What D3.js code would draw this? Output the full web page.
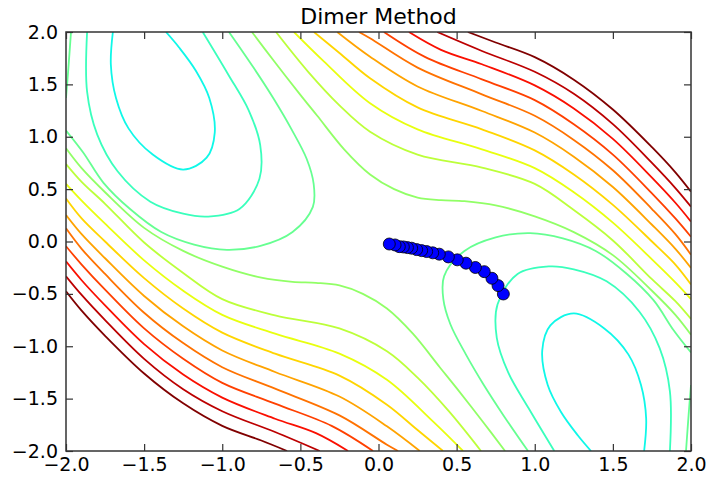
<!DOCTYPE html>
<html>
<head>
<meta charset="utf-8">
<script src="https://cdn.jsdelivr.net/npm/d3@7"></script>
<style>
  body { margin: 0; background: #fff; }
  text { font-family: "DejaVu Sans", sans-serif; }
</style>
</head>
<body>
<div id="chart"></div>
<script>
const margins = { top: 32, right: 31, bottom: 28, left: 66 };
const width = 722 - margins.left - margins.right;
const height = 479 - margins.top - margins.bottom;

const title = "Dimer Method";
const xTicks = [-2, -1.5, -1, -0.5, 0, 0.5, 1, 1.5, 2];
const yTicks = [-2, -1.5, -1, -0.5, 0, 0.5, 1, 1.5, 2];

// jet colours of the contour levels, lowest first
const levelColors = [
    "rgb(15,248,232)", "rgb(58,255,188)", "rgb(102,255,145)", "rgb(145,255,102)",
    "rgb(188,255,58)", "rgb(232,255,15)", "rgb(255,213,0)", "rgb(255,163,0)",
    "rgb(255,114,0)", "rgb(255,64,0)", "rgb(250,15,0)", "rgb(188,0,0)", "rgb(128,0,0)"
];

// contour lines: [level index, points]
const loopsTopLeft = [
    [0, [[-1.70, 2.0], [-1.713, 1.69], [-1.68, 1.37], [-1.60, 1.08], [-1.445, 0.83], [-1.25, 0.687], [-1.10, 0.80], [-1.048, 1.04], [-1.083, 1.37], [-1.168, 1.628], [-1.275, 1.85], [-1.36, 2.0]]],
    [1, [[-1.865, 2.0], [-1.865, 1.43], [-1.80, 1.02], [-1.67, 0.67], [-1.46, 0.38], [-1.25, 0.265], [-1.09, 0.238], [-0.89, 0.31], [-0.762, 0.60], [-0.757, 0.92], [-0.83, 1.25], [-0.96, 1.59], [-1.125, 2.0]]],
    [2, [[-1.968, 2.0], [-1.985, 1.65], [-2.0, 1.37]]],
    [2, [[-2.0, 1.06], [-1.89, 0.85], [-1.76, 0.56], [-1.59, 0.31], [-1.39, 0.09], [-1.18, -0.03], [-0.97, -0.08], [-0.75, -0.04], [-0.55, 0.09], [-0.42, 0.33], [-0.415, 0.55], [-0.46, 0.79], [-0.56, 1.08], [-0.67, 1.36], [-0.80, 1.66], [-0.957, 2.0]]]
];

const loopsBottomRight = [
    [0, [[1.70, -2.0], [1.713, -1.69], [1.68, -1.37], [1.60, -1.08], [1.445, -0.83], [1.25, -0.687], [1.10, -0.80], [1.048, -1.04], [1.083, -1.37], [1.168, -1.628], [1.275, -1.85], [1.36, -2.0]]],
    [1, [[1.865, -2.0], [1.865, -1.43], [1.80, -1.02], [1.67, -0.67], [1.46, -0.38], [1.25, -0.265], [1.09, -0.238], [0.89, -0.31], [0.762, -0.60], [0.757, -0.92], [0.83, -1.25], [0.96, -1.59], [1.125, -2.0]]],
    [2, [[1.968, -2.0], [1.985, -1.65], [2.0, -1.37]]],
    [2, [[2.0, -1.06], [1.89, -0.85], [1.76, -0.56], [1.59, -0.31], [1.39, -0.09], [1.18, 0.03], [0.97, 0.08], [0.75, 0.04], [0.55, -0.09], [0.42, -0.33], [0.415, -0.55], [0.46, -0.79], [0.56, -1.08], [0.67, -1.36], [0.80, -1.66], [0.957, -2.0]]]
];

const ridgesTopRight = [
    [3, [[-0.81, 2.0], [-0.669, 1.723], [-0.50, 1.40], [-0.392, 1.20], [-0.22, 0.88], [-0.054, 0.64], [0.10, 0.50], [0.25, 0.42], [0.40, 0.395], [0.55, 0.385], [0.75, 0.345], [1.0, 0.24], [1.25, 0.09], [1.5, -0.13], [1.75, -0.47], [1.9, -0.70], [2.0, -0.89]]],
    [4, [[-0.656, 2.0], [-0.45, 1.62], [-0.25, 1.30], [-0.054, 1.048], [0.25, 0.83], [0.662, 0.705], [1.0, 0.55], [1.25, 0.30], [1.5, 0.01], [1.75, -0.36], [1.9, -0.57], [2.0, -0.74]]],
    [5, [[-0.541, 2.0], [-0.35, 1.72], [-0.054, 1.32], [0.25, 1.07], [0.662, 0.88], [1.0, 0.70], [1.25, 0.47], [1.5, 0.18], [1.75, -0.17], [1.9, -0.39], [2.0, -0.55]]],
    [6, [[-0.413, 2.0], [-0.25, 1.80], [-0.054, 1.558], [0.25, 1.28], [0.662, 1.071], [1.0, 0.87], [1.25, 0.64], [1.5, 0.35], [1.75, 0.0], [1.9, -0.22], [2.0, -0.41]]],
    [7, [[-0.264, 2.0], [-0.054, 1.764], [0.25, 1.48], [0.662, 1.246], [1.0, 1.04], [1.25, 0.81], [1.5, 0.52], [1.75, 0.16], [1.9, -0.07], [2.0, -0.253]]],
    [8, [[-0.125, 2.0], [-0.054, 1.94], [0.25, 1.66], [0.662, 1.405], [1.0, 1.20], [1.25, 0.97], [1.5, 0.68], [1.75, 0.31], [1.9, 0.07], [2.0, -0.126]]],
    [9, [[0.035, 2.0], [0.30, 1.76], [0.662, 1.548], [1.0, 1.35], [1.25, 1.12], [1.5, 0.83], [1.75, 0.46], [1.9, 0.22], [2.0, 0.045]]],
    [10, [[0.195, 2.0], [0.40, 1.83], [0.662, 1.692], [1.0, 1.49], [1.25, 1.27], [1.5, 0.98], [1.75, 0.61], [1.9, 0.37], [2.0, 0.19]]],
    [11, [[0.376, 2.0], [0.662, 1.819], [1.0, 1.62], [1.25, 1.41], [1.5, 1.12], [1.75, 0.75], [1.9, 0.51], [2.0, 0.332]]],
    [12, [[0.572, 2.0], [0.75, 1.90], [1.0, 1.76], [1.25, 1.545], [1.5, 1.26], [1.75, 0.90], [1.9, 0.66], [2.0, 0.475]]]
];

const ridgesBottomLeft = [
    [3, [[0.81, -2.0], [0.669, -1.723], [0.50, -1.40], [0.392, -1.20], [0.22, -0.88], [0.054, -0.64], [-0.10, -0.50], [-0.25, -0.42], [-0.40, -0.395], [-0.55, -0.385], [-0.75, -0.345], [-1.0, -0.24], [-1.25, -0.09], [-1.5, 0.13], [-1.75, 0.47], [-1.9, 0.70], [-2.0, 0.89]]],
    [4, [[0.656, -2.0], [0.45, -1.62], [0.25, -1.30], [0.054, -1.048], [-0.25, -0.83], [-0.662, -0.705], [-1.0, -0.55], [-1.25, -0.30], [-1.5, -0.01], [-1.75, 0.36], [-1.9, 0.57], [-2.0, 0.74]]],
    [5, [[0.541, -2.0], [0.35, -1.72], [0.054, -1.32], [-0.25, -1.07], [-0.662, -0.88], [-1.0, -0.70], [-1.25, -0.47], [-1.5, -0.18], [-1.75, 0.17], [-1.9, 0.39], [-2.0, 0.55]]],
    [6, [[0.413, -2.0], [0.25, -1.80], [0.054, -1.558], [-0.25, -1.28], [-0.662, -1.071], [-1.0, -0.87], [-1.25, -0.64], [-1.5, -0.35], [-1.75, 0.0], [-1.9, 0.22], [-2.0, 0.41]]],
    [7, [[0.264, -2.0], [0.054, -1.764], [-0.25, -1.48], [-0.662, -1.246], [-1.0, -1.04], [-1.25, -0.81], [-1.5, -0.52], [-1.75, -0.16], [-1.9, 0.07], [-2.0, 0.253]]],
    [8, [[0.125, -2.0], [0.054, -1.94], [-0.25, -1.66], [-0.662, -1.405], [-1.0, -1.20], [-1.25, -0.97], [-1.5, -0.68], [-1.75, -0.31], [-1.9, -0.07], [-2.0, 0.126]]],
    [9, [[-0.035, -2.0], [-0.30, -1.76], [-0.662, -1.548], [-1.0, -1.35], [-1.25, -1.12], [-1.5, -0.83], [-1.75, -0.46], [-1.9, -0.22], [-2.0, -0.045]]],
    [10, [[-0.195, -2.0], [-0.40, -1.83], [-0.662, -1.692], [-1.0, -1.49], [-1.25, -1.27], [-1.5, -0.98], [-1.75, -0.61], [-1.9, -0.37], [-2.0, -0.19]]],
    [11, [[-0.376, -2.0], [-0.662, -1.819], [-1.0, -1.62], [-1.25, -1.41], [-1.5, -1.12], [-1.75, -0.75], [-1.9, -0.51], [-2.0, -0.332]]],
    [12, [[-0.585, -2.0], [-0.75, -1.90], [-1.0, -1.76], [-1.25, -1.545], [-1.5, -1.26], [-1.75, -0.90], [-1.9, -0.66], [-2.0, -0.475]]]
];

// dimer path, from the start point to the saddle
const pathX = [0.799, 0.765, 0.726, 0.677, 0.62, 0.56, 0.504, 0.447, 0.389, 0.347, 0.308, 0.276, 0.244, 0.212, 0.185, 0.159, 0.133, 0.106, 0.069];
const pathY = [-0.501, -0.421, -0.351, -0.288, -0.248, -0.207, -0.175, -0.147, -0.121, -0.108, -0.096, -0.087, -0.077, -0.064, -0.058, -0.052, -0.049, -0.033, -0.024];

const svg = d3.select("#chart").append("svg")
    .attr("width", width + margins.left + margins.right)
    .attr("height", height + margins.top + margins.bottom);

const g = svg.append("g")
    .attr("transform", `translate(${margins.left}, ${margins.top})`);

const xScale = d3.scaleLinear().domain([-2, 2]).range([0, width]);
const yScale = d3.scaleLinear().domain([-2, 2]).range([height, 0]);

g.append("clipPath")
    .attr("id", "plotClip")
    .append("rect")
    .attr("width", width)
    .attr("height", height);

const line = d3.line()
    .x(d => xScale(d[0]))
    .y(d => yScale(d[1]))
    .curve(d3.curveCatmullRom.alpha(0.5));

const contours = loopsTopLeft.concat(loopsBottomRight, ridgesTopRight, ridgesBottomLeft);

g.append("g")
    .attr("clip-path", "url(#plotClip)")
    .selectAll("path")
    .data(contours)
    .join("path")
    .attr("d", d => line(d[1]))
    .attr("fill", "none")
    .attr("stroke", d => levelColors[d[0]])
    .attr("stroke-width", 1.8);

g.append("g")
    .selectAll("circle")
    .data(pathX.map((x, i) => [x, pathY[i]]))
    .join("circle")
    .attr("cx", d => xScale(d[0]))
    .attr("cy", d => yScale(d[1]))
    .attr("r", 6)
    .attr("fill", "#0000ff")
    .attr("stroke", "#000")
    .attr("stroke-width", 0.8);

// frame and inward ticks on all four sides
const fmt = d3.format(".1f");
const tickLen = 7;

const xAxisB = g.append("g")
    .attr("transform", `translate(0, ${height})`)
    .call(d3.axisBottom(xScale).tickValues(xTicks).tickFormat(fmt).tickSizeInner(-tickLen).tickSizeOuter(0).tickPadding(7));
const xAxisT = g.append("g")
    .call(d3.axisTop(xScale).tickValues(xTicks).tickFormat("").tickSizeInner(-tickLen).tickSizeOuter(0));
const yAxisL = g.append("g")
    .call(d3.axisLeft(yScale).tickValues(yTicks).tickFormat(fmt).tickSizeInner(-tickLen).tickSizeOuter(0).tickPadding(8));
const yAxisR = g.append("g")
    .attr("transform", `translate(${width}, 0)`)
    .call(d3.axisRight(yScale).tickValues(yTicks).tickFormat("").tickSizeInner(-tickLen).tickSizeOuter(0));

[xAxisB, xAxisT, yAxisL, yAxisR].forEach(a => {
    a.select(".domain").remove();
    a.selectAll("line").attr("stroke", "#333").attr("stroke-width", 1.2);
    a.selectAll("text")
        .attr("font-size", "19px")
        .attr("fill", "#000")
        .style("font-family", "'DejaVu Sans', sans-serif");
});

g.append("rect")
    .attr("width", width)
    .attr("height", height)
    .attr("fill", "none")
    .attr("stroke", "#333")
    .attr("stroke-width", 1.5);

svg.append("text")
    .attr("x", margins.left + width / 2)
    .attr("y", 24)
    .attr("text-anchor", "middle")
    .attr("font-size", "22px")
    .attr("fill", "#000")
    .text(title);
</script>
</body>
</html>
